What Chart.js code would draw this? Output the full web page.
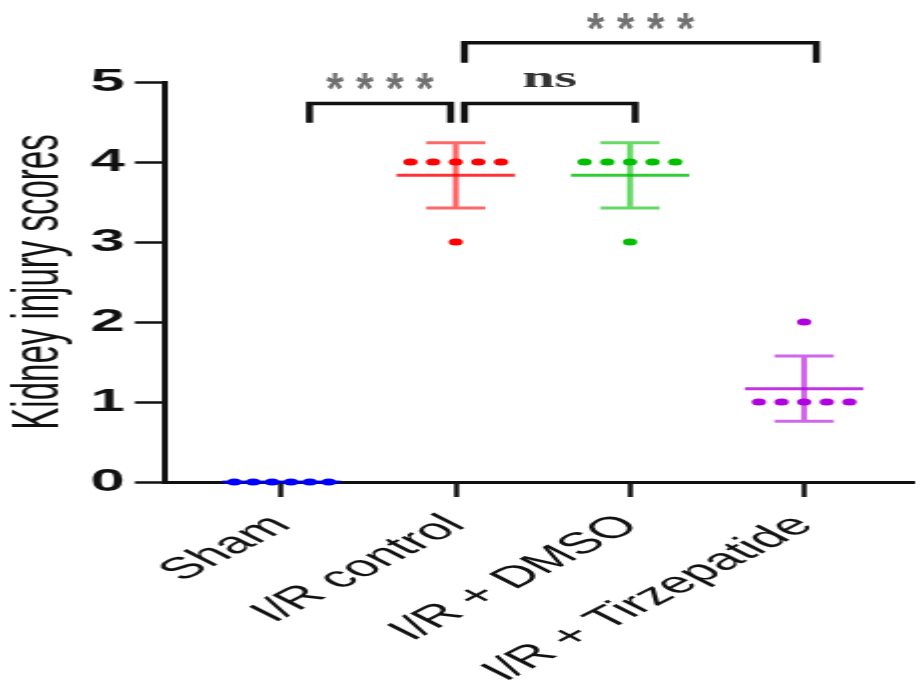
<!DOCTYPE html>
<html>
<head>
<meta charset="utf-8">
<script src="https://cdn.jsdelivr.net/npm/chart.js@4.4.1/dist/chart.umd.min.js"></script>
<style>
  html, body { margin: 0; padding: 0; background: #fff; }
  #plot { display: block; }
</style>
</head>
<body>
<!-- drawn narrow and stretched sideways, like the source figure -->
<canvas id="plot" width="461" height="691" style="width:921px;height:691px"></canvas>
<script>
'use strict';

// Groups and scores (one value per animal)
const groups = ['Sham', 'I/R control', 'I/R + DMSO', 'I/R + Tirzepatide'];
const shamScores = [0, 0, 0, 0, 0, 0];
const controlScores = [4, 4, 4, 4, 4, 3];
const dmsoScores = [4, 4, 4, 4, 4, 3];
const tirzScores = [1, 1, 1, 1, 1, 2];
const yTicks = [0, 1, 2, 3, 4, 5];

const groupColors = ['#0000ff', '#ff0000', '#00bf00', '#b000e0'];

// Significance brackets: x range in group units, bracket height and leg bottom
const brackets = [
    { x1: 0.16, x2: 0.97, top: 4.73, bottom: 4.49, label: '****', labelY: 5.02 },
    { x1: 1.05, x2: 2.03, top: 4.73, bottom: 4.49, label: 'ns', labelY: 5.02 },
    { x1: 1.05, x2: 3.07, top: 5.49, bottom: 5.24, label: '****', labelY: 5.77 }
];

const allScores = [shamScores, controlScores, dmsoScores, tirzScores];

function withAlpha(hex, a) {
    const r = parseInt(hex.slice(1, 3), 16);
    const g = parseInt(hex.slice(3, 5), 16);
    const b = parseInt(hex.slice(5, 7), 16);
    return 'rgba(' + r + ',' + g + ',' + b + ',' + a + ')';
}

// spread identical values side by side, like a scatter dot plot
function swarm(scores, center) {
    const counts = {};
    for (const v of scores) counts[v] = (counts[v] || 0) + 1;
    const seen = {};
    const pts = [];
    for (const v of scores) {
        const n = counts[v];
        const step = Math.min(0.13, 0.65 / n);
        const k = seen[v] || 0;
        seen[v] = k + 1;
        pts.push({ x: center + (k - (n - 1) / 2) * step, y: v });
    }
    return pts;
}

function meanSd(scores) {
    const m = scores.reduce((a, b) => a + b, 0) / scores.length;
    let ss = 0;
    for (const v of scores) ss += (v - m) * (v - m);
    return { mean: m, sd: Math.sqrt(ss / (scores.length - 1)) };
}

const datasets = [];

allScores.forEach(function (scores, i) {
    const s = meanSd(scores);
    const gap = { x: null, y: null };
    // mean line
    datasets.push({
        type: 'scatter', showLine: true, clip: false,
        data: [{ x: i - 0.34, y: s.mean }, { x: i + 0.34, y: s.mean }],
        borderColor: withAlpha(groupColors[i], 0.8), borderWidth: 3,
        pointRadius: 0, borderCapStyle: 'butt'
    });
    // SD whisker and caps
    if (s.sd > 0) {
        datasets.push({
            type: 'scatter', showLine: true, clip: false,
            data: [{ x: i, y: s.mean - s.sd }, { x: i, y: s.mean + s.sd }, gap,
                   { x: i - 0.17, y: s.mean + s.sd }, { x: i + 0.17, y: s.mean + s.sd }, gap,
                   { x: i - 0.17, y: s.mean - s.sd }, { x: i + 0.17, y: s.mean - s.sd }],
            borderColor: withAlpha(groupColors[i], 0.6), borderWidth: 3,
            pointRadius: 0, borderCapStyle: 'butt', spanGaps: false
        });
    }
    // the dots
    datasets.push({
        type: 'scatter', clip: false,
        data: swarm(scores, i),
        backgroundColor: groupColors[i], borderWidth: 0,
        pointRadius: 3.6
    });
});

for (const b of brackets) {
    datasets.push({
        type: 'scatter', showLine: true, clip: false,
        data: [{ x: b.x1, y: b.bottom }, { x: b.x1, y: b.top }, { x: b.x2, y: b.top }, { x: b.x2, y: b.bottom }],
        borderColor: '#111', borderWidth: 3.5, borderJoinStyle: 'miter',
        borderCapStyle: 'butt', pointRadius: 0
    });
}

// star / ns labels above the brackets
const bracketLabels = {
    id: 'bracketLabels',
    afterDatasetsDraw(chart) {
        const ctx = chart.ctx;
        const xs = chart.scales.x, ys = chart.scales.y;
        ctx.save();
        ctx.textAlign = 'center';
        ctx.textBaseline = 'alphabetic';
        for (const b of brackets) {
            const px = xs.getPixelForValue((b.x1 + b.x2) / 2);
            const py = ys.getPixelForValue(b.labelY);
            if (b.label === 'ns') {
                ctx.font = 'bold 29px "Liberation Serif", serif';
                ctx.fillStyle = '#333';
                ctx.fillText(b.label, px, py + 7);
            } else {
                // one asterisk at a time, narrow so they come out round after the stretch
                ctx.font = 'bold 45px "Liberation Sans", Arial, sans-serif';
                ctx.fillStyle = '#707070';
                const n = b.label.length;
                for (let k = 0; k < n; k++) {
                    ctx.save();
                    ctx.translate(px + (k - (n - 1) / 2) * 15, py + 24);
                    ctx.scale(0.5, 1);
                    ctx.fillText('*', 0, 0);
                    ctx.restore();
                }
            }
        }
        ctx.restore();
    }
};

new Chart(document.getElementById('plot'), {
    type: 'scatter',
    data: { datasets: datasets },
    plugins: [bracketLabels],
    options: {
        responsive: false,
        animation: false,
        events: [],
        layout: { padding: { top: 82, left: 0, right: 0, bottom: 0 } },
        plugins: {
            legend: { display: false },
            tooltip: { enabled: false }
        },
        scales: {
            x: {
                type: 'linear',
                min: -0.67,
                max: 3.625,
                afterBuildTicks(scale) {
                    scale.ticks = groups.map((g, i) => ({ value: i }));
                },
                afterFit(scale) { scale.height = 209; },
                ticks: {
                    autoSkip: false,
                    minRotation: 45,
                    maxRotation: 45,
                    padding: 11,
                    color: '#111',
                    font: { family: '"Liberation Sans", Arial, sans-serif', size: 30 },
                    callback: (v) => groups[v]
                },
                grid: { drawOnChartArea: false, tickLength: 15, tickWidth: 2.5, color: '#111' },
                border: { color: '#111', width: 3 }
            },
            y: {
                min: 0,
                max: 5,
                afterBuildTicks(scale) {
                    scale.ticks = yTicks.map(v => ({ value: v }));
                },
                afterFit(scale) { scale.width = 82.5; },
                ticks: {
                    padding: 5,
                    color: '#111',
                    font: { family: '"Liberation Sans", Arial, sans-serif', size: 31, weight: 'bold' }
                },
                grid: { drawOnChartArea: false, tickLength: 15, tickWidth: 2.5, color: '#111' },
                border: { color: '#111', width: 3 },
                title: {
                    display: true,
                    text: 'Kidney injury scores',
                    color: '#111',
                    padding: 0,
                    font: { family: '"Liberation Sans", Arial, sans-serif', size: 33 }
                }
            }
        }
    }
});
</script>
</body>
</html>
